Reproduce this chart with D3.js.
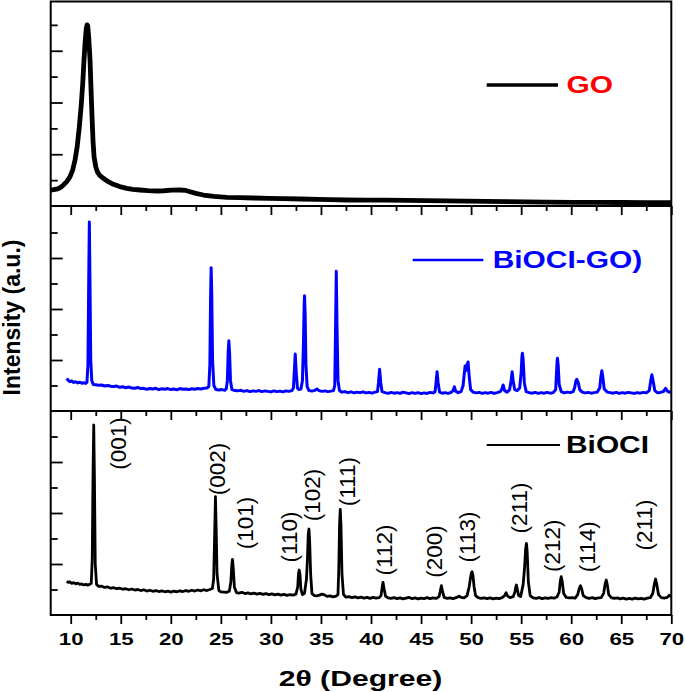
<!DOCTYPE html>
<html><head><meta charset="utf-8">
<script src="https://cdn.jsdelivr.net/npm/d3@7"></script>
<style>body{margin:0;background:#fff;} svg{display:block}</style>
</head><body><svg id="c" width="685" height="692"></svg>
<script>
// 2θ (degree), intensity (a.u.)
const goData = [[8,309],[8.3,315],[8.7,330],[9.0,360],[9.27,406],[9.6,470],[9.93,566],[10.2,700],[10.43,889],[10.65,1150],[10.86,1532],[11.05,1950],[11.2,2370],[11.32,2800],[11.43,3143],[11.55,3420],[11.63,3500],[11.7,3480],[11.8,3250],[11.93,2820],[12.03,2250],[12.13,1725],[12.23,1250],[12.33,952],[12.5,760],[12.66,663],[12.9,590],[13.26,535],[13.7,475],[14.26,419],[14.9,375],[15.6,342],[16.2,322],[16.93,309],[17.7,298],[18.6,290],[19.3,295],[20.1,305],[20.93,309],[21.5,300],[21.93,276],[22.6,240],[23.26,212],[24.3,185],[25.6,168],[26.9,160],[28.26,155],[29.8,148],[31.26,141],[33,135],[34.6,129],[36,122],[37.6,116],[39.5,112],[41.5,113],[43.5,108],[45.5,104],[47.5,98],[49.5,94],[51.5,88],[53.6,83],[55.5,80],[57.5,76],[60.26,71],[62.5,70],[65,68],[67.5,66],[70,65]];

const compositeData = [[9.6,640],[9.75,600],[9.9,575],[10.1,590],[10.3,560],[10.5,575],[10.7,550],[10.9,565],[11.1,545],[11.3,555],[11.5,540],
[11.62,560],[11.72,900],[11.8,2600],[11.86,3706],[11.92,2600],[12.0,1000],[12.1,600],[12.25,520],
[12.5,515],[12.8,505],[13.1,510],[13.4,490],[13.7,500],[14.0,485],[14.3,480],[14.6,490],[14.9,465],[15.2,475],[15.5,455],[15.8,470],[16.1,450],[16.4,445],[16.7,460],[17.0,440],[17.3,445],[17.6,425],[17.9,440],[18.2,430],[18.5,445],[18.8,420],[19.1,435],[19.4,425],[19.7,440],[20.0,420],[20.3,430],[20.6,415],[20.9,440],[21.2,425],[21.5,430],[21.8,420],[22.1,435],[22.4,425],[22.7,440],[23.0,430],[23.3,445],[23.6,450],
[23.8,480],[23.9,900],[23.97,2200],[24.03,2810],[24.09,2300],[24.17,1000],[24.3,500],[24.5,420],[24.8,410],[25.1,420],[25.4,405],[25.55,440],
[25.65,600],[25.73,1150],[25.8,1378],[25.87,1150],[25.96,600],[26.1,420],[26.4,400],[26.7,395],[27.0,405],[27.3,385],[27.6,400],[27.9,380],[28.2,395],[28.5,385],[28.8,400],[29.1,380],[29.4,395],[29.7,385],[30.0,375],[30.3,395],[30.6,380],[30.9,390],[31.2,375],[31.5,395],[31.8,385],[32.1,400],[32.25,450],
[32.33,750],[32.43,1118],[32.53,750],[32.65,450],[32.8,420],[33.0,430],[33.15,600],
[33.25,1300],[33.33,2150],[33.36,2261],[33.42,1900],[33.5,900],[33.62,480],[33.8,400],[34.1,390],[34.4,405],[34.6,431],[34.8,400],[35.1,385],[35.4,395],[35.7,380],[36.0,390],[36.25,400],[36.38,500],
[36.45,1500],[36.53,2739],[36.6,1700],[36.7,600],[36.85,400],[37.1,370],[37.4,380],[37.7,360],[38.0,375],[38.3,355],[38.6,370],[38.9,360],[39.2,375],[39.5,355],[39.8,365],[40.1,350],[40.4,370],[40.65,380],
[40.75,560],[40.86,818],[40.97,560],[41.1,380],[41.4,360],[41.7,345],[42.0,365],[42.3,350],[42.6,360],[42.9,345],[43.2,370],[43.5,355],[43.8,340],[44.1,360],[44.4,345],[44.7,360],[45.0,340],[45.3,355],[45.6,345],[45.9,365],[46.2,355],[46.4,380],
[46.5,560],[46.6,771],[46.7,560],[46.85,370],[47.1,350],[47.4,360],[47.7,345],[48.0,365],[48.2,400],[48.33,476],[48.45,390],[48.7,360],[49.0,380],[49.2,500],
[49.3,700],[49.4,882],[49.52,800],[49.62,920],[49.7,961],[49.8,700],[49.95,420],[50.2,370],[50.5,355],[50.8,365],[51.1,345],[51.4,360],[51.7,350],[52.0,365],[52.3,345],[52.6,360],[52.9,380],[53.05,420],[53.2,510],[53.35,400],[53.6,370],[53.85,420],
[54.0,600],[54.1,771],[54.2,600],[54.35,420],[54.6,400],[54.85,450],
[55.0,750],[55.08,1080],[55.13,1131],[55.2,1000],[55.32,550],[55.5,380],[55.8,360],[56.1,350],[56.4,365],[56.7,345],[57.0,360],[57.3,350],[57.6,365],[57.9,350],[58.2,360],[58.45,420],
[58.53,750],[58.6,1000],[58.63,1033],[58.7,900],[58.8,520],[59.0,380],[59.3,355],[59.6,370],[59.9,360],[60.2,380],[60.35,460],
[60.45,580],[60.56,622],[60.7,560],[60.85,420],[61.1,370],[61.4,355],[61.7,365],[62.0,350],[62.3,360],[62.6,370],[62.85,450],
[62.95,650],[63.06,790],[63.15,680],[63.3,430],[63.6,370],[63.9,360],[64.2,350],[64.5,365],[64.8,345],[65.1,360],[65.4,350],[65.7,365],[66.0,355],[66.3,345],[66.6,360],[66.9,350],[67.2,365],[67.5,355],[67.8,400],
[67.95,600],[68.06,712],[68.17,600],[68.35,400],[68.6,360],[68.9,365],[69.2,380],[69.43,445],[69.6,390],[69.8,370],[70.0,380]];

const biociData = [[9.6,660],[9.75,640],[9.9,650],[10.1,620],[10.3,635],[10.5,610],[10.7,625],[10.9,600],[11.1,610],[11.3,590],[11.5,600],[11.7,585],[11.9,600],
[12.05,620],[12.15,1100],[12.23,2800],[12.3,3725],[12.37,2700],[12.45,1000],[12.58,600],[12.8,560],[13.1,565],[13.4,540],[13.7,550],[14.0,525],[14.3,535],[14.6,515],[14.9,525],[15.2,505],[15.5,515],[15.8,495],[16.1,510],[16.4,490],[16.7,500],[17.0,480],[17.3,495],[17.6,470],[17.9,485],[18.2,465],[18.5,480],[18.8,460],[19.1,475],[19.4,455],[19.7,470],[20.0,450],[20.3,470],[20.6,455],[20.9,475],[21.2,460],[21.5,480],[21.8,465],[22.1,485],[22.4,470],[22.7,490],[23.0,475],[23.3,495],[23.6,480],[23.9,500],[24.15,520],
[24.28,700],[24.37,1500],[24.46,2320],[24.53,1700],[24.62,800],[24.8,480],[25.0,455],[25.3,450],[25.6,445],[25.85,470],
[26.0,650],[26.1,1000],[26.16,1092],[26.23,950],[26.35,550],[26.55,440],[26.8,430],[27.1,445],[27.4,420],[27.7,435],[28.0,415],[28.3,430],[28.6,410],[28.9,425],[29.2,405],[29.5,420],[29.8,400],[30.1,415],[30.4,395],[30.7,410],[31.0,390],[31.3,405],[31.6,385],[31.9,400],[32.2,390],[32.5,410],
[32.68,550],[32.76,820],[32.83,882],[32.9,800],[33.0,500],[33.15,400],[33.35,420],[33.55,700],
[33.65,1100],[33.73,1580],[33.8,1686],[33.87,1450],[33.97,800],[34.1,420],[34.35,380],[34.6,375],[34.85,390],[35.1,410],[35.35,395],[35.6,365],[35.9,375],[36.2,355],[36.5,370],[36.7,400],
[36.78,900],[36.86,1800],[36.93,2073],[37.0,1750],[37.1,800],[37.25,400],[37.5,350],[37.8,360],[38.1,340],[38.4,355],[38.7,335],[39.0,350],[39.3,330],[39.6,345],[39.9,325],[40.2,345],[40.5,330],[40.8,340],[41.0,380],
[41.1,520],[41.2,641],[41.3,520],[41.45,370],[41.7,335],[42.0,325],[42.3,340],[42.6,320],[42.9,335],[43.2,315],[43.5,330],[43.8,345],[44.1,320],[44.4,335],[44.7,315],[45.0,330],[45.3,320],[45.6,340],[45.9,320],[46.2,335],[46.5,325],[46.8,360],
[46.93,480],[47.03,575],[47.13,480],[47.3,345],[47.6,325],[47.9,335],[48.2,320],[48.5,340],[48.8,370],[49.0,345],[49.3,335],[49.6,380],[49.8,550],
[49.92,700],[50.02,820],[50.1,849],[50.18,780],[50.3,550],[50.45,380],[50.7,340],[51.0,325],[51.3,335],[51.6,320],[51.9,335],[52.2,315],[52.5,330],[52.8,320],[53.1,340],[53.35,380],[53.5,437],[53.65,370],[53.9,340],[54.2,360],[54.38,450],
[54.45,540],[54.53,588],[54.62,500],[54.75,380],[54.95,360],[55.2,600],
[55.33,900],[55.45,1300],[55.53,1406],[55.6,1250],[55.72,650],[55.9,380],[56.2,335],[56.5,325],[56.8,340],[57.1,320],[57.4,335],[57.7,325],[58.0,340],[58.3,330],[58.6,360],[58.8,450],
[58.9,650],[59.0,751],[59.1,660],[59.25,420],[59.5,345],[59.8,335],[60.1,340],[60.4,330],[60.65,400],
[60.8,520],[60.93,575],[61.05,510],[61.2,380],[61.5,340],[61.8,325],[62.1,340],[62.4,320],[62.7,335],[63.0,340],[63.25,430],
[63.38,600],[63.5,686],[63.6,600],[63.75,400],[64.0,340],[64.3,325],[64.6,335],[64.9,315],[65.2,330],[65.5,310],[65.8,325],[66.1,310],[66.4,330],[66.7,315],[67.0,325],[67.3,310],[67.6,330],[67.9,340],[68.15,420],
[68.3,600],[68.43,706],[68.55,600],[68.72,400],[69.0,340],[69.3,330],[69.6,345],[69.8,390],[70.0,360]];

const seriesNames = ["GO", "BiOCI-GO)", "BiOCI"];
const lineColors = ["#000000", "#0000ff", "#000000"];
const nameColors = ["#ff0000", "#0000ff", "#000000"];
const xMajorTicks = [10, 15, 20, 25, 30, 35, 40, 45, 50, 55, 60, 65, 70];
const xMinorTicks = [12.5, 17.5, 22.5, 27.5, 32.5, 37.5, 42.5, 47.5, 52.5, 57.5, 62.5, 67.5];
const yMajorTicks = [1000, 2000, 3000];
const yMinorTicks = [500, 1500, 2500, 3500];
const peakLabels = ["(001)", "(002)", "(101)", "(110)", "(102)", "(111)", "(112)", "(200)", "(113)", "(211)", "(212)", "(114)", "(211)"];
const peakLabelTheta = [15.57, 25.39, 28.23, 32.56, 34.89, 38.36, 42.05, 47.05, 50.38, 55.55, 58.88, 62.37, 68.04];
const peakLabelLevel = [3363, 2863, 1804, 1529, 2353, 2614, 1275, 1245, 1529, 2098, 1359, 1339, 1765];
const xTitle = "2θ (Degree)";
const yTitle = "Intensity (a.u.)";

const FONT = "'Liberation Sans', Arial, Helvetica, sans-serif";
const svg = d3.select("#c");
const left = 50.7, right = 671.3;
const x = d3.scaleLinear().domain([8, 70]).range([left, right]);

const panels = [
  {top: 1.5, bottom: 206, yr: [206, -1], data: goData, width: 4.8},
  {top: 206, bottom: 411, yr: [411, 207], data: compositeData, width: 3},
  {top: 411, bottom: 615, yr: [615, 411], data: biociData, width: 2.8}
];
const legendPos = [
  {x1: 486.7, x2: 558, y: 85, tx: 566.5, ty: 92.7, w: 3.5},
  {x1: 412.7, x2: 483.3, y: 260, tx: 492.7, ty: 268.3, w: 2.5},
  {x1: 486.7, x2: 560, y: 445, tx: 566, ty: 453.3, w: 2.2}
];

const defs = svg.append("defs");
panels.forEach((p, i) => {
  p.y = d3.scaleLinear().domain([0, 4000]).range(p.yr);
  defs.append("clipPath").attr("id", "clip" + i).append("rect")
    .attr("x", left).attr("y", p.top).attr("width", right - left).attr("height", p.bottom - p.top);
  const line = d3.line().x(d => x(d[0])).y(d => p.y(d[1]));
  svg.append("path").datum(p.data).attr("d", line)
    .attr("fill", "none").attr("stroke", lineColors[i]).attr("stroke-width", p.width)
    .attr("stroke-linejoin", "round").attr("clip-path", `url(#clip${i})`);

  // y ticks (inward)
  const yAxMaj = d3.axisRight(p.y).tickValues(yMajorTicks).tickSize(12).tickFormat("");
  const yAxMin = d3.axisRight(p.y).tickValues(yMinorTicks).tickSize(7).tickFormat("");
  [yAxMaj, yAxMin].forEach(ax => {
    const g = svg.append("g").attr("transform", `translate(${left},0)`).call(ax);
    g.select(".domain").remove();
    g.selectAll("line").attr("stroke", "#000").attr("stroke-width", 1.8);
  });

  // legend
  const L = legendPos[i];
  svg.append("line").attr("x1", L.x1).attr("x2", L.x2).attr("y1", L.y).attr("y2", L.y)
    .attr("stroke", lineColors[i]).attr("stroke-width", L.w);
  svg.append("g").attr("transform", `translate(${L.tx},${L.ty})`)
    .append("text").attr("transform", "scale(1.3,1)")
    .attr("font-family", FONT).attr("font-weight", "bold").attr("font-size", 23)
    .attr("fill", nameColors[i]).text(seriesNames[i]);
});

// x ticks inward at top of middle and bottom panels
[206, 411].forEach(yy => {
  [[xMajorTicks, 9], [xMinorTicks, 5]].forEach(([tv, sz]) => {
    const g = svg.append("g").attr("transform", `translate(0,${yy})`)
      .call(d3.axisBottom(x).tickValues(tv).tickSize(sz).tickFormat(""));
    g.select(".domain").remove();
    g.selectAll("line").attr("stroke", "#000").attr("stroke-width", 1.8);
  });
});
// bottom axis outward with labels
{
  const g = svg.append("g").attr("transform", "translate(0,615)")
    .call(d3.axisBottom(x).tickValues(xMajorTicks).tickSize(9).tickPadding(9).tickFormat(d3.format("d")));
  g.select(".domain").remove();
  g.selectAll("line").attr("stroke", "#000").attr("stroke-width", 1.8);
  g.selectAll("text").attr("font-family", FONT).attr("font-weight", "bold").attr("font-size", 16.5)
    .attr("fill", "#000").attr("transform", "scale(1.35,1)");
  const gm = svg.append("g").attr("transform", "translate(0,615)")
    .call(d3.axisBottom(x).tickValues(xMinorTicks).tickSize(5).tickFormat(""));
  gm.select(".domain").remove();
  gm.selectAll("line").attr("stroke", "#000").attr("stroke-width", 1.8);
}

// frame and panel separators
svg.append("rect").attr("x", left).attr("y", 1.5).attr("width", right - left).attr("height", 615 - 1.5)
  .attr("fill", "none").attr("stroke", "#000").attr("stroke-width", 2);
[206, 411].forEach(yy => svg.append("line").attr("x1", left).attr("x2", right).attr("y1", yy).attr("y2", yy)
  .attr("stroke", "#000").attr("stroke-width", 2));

// peak labels (bottom panel)
const yb = panels[2].y;
svg.append("g").selectAll("text").data(peakLabels).join("text")
  .attr("transform", (d, i) => `translate(${x(peakLabelTheta[i])},${yb(peakLabelLevel[i])}) rotate(-90)`)
  .attr("text-anchor", "middle").attr("font-family", FONT).attr("font-size", 22.5).attr("fill", "#000")
  .text(d => d);

// axis titles
svg.append("g").attr("transform", "translate(360.5,686)")
  .append("text").attr("transform", "scale(1.37,1)").attr("text-anchor", "middle")
  .attr("font-family", FONT).attr("font-weight", "bold").attr("font-size", 22).attr("fill", "#000")
  .text(xTitle);
svg.append("text").attr("transform", "translate(19.5,317.5) rotate(-90)").attr("text-anchor", "middle")
  .attr("font-family", FONT).attr("font-weight", "bold").attr("font-size", 23).attr("fill", "#000")
  .text(yTitle);
</script></body></html>
